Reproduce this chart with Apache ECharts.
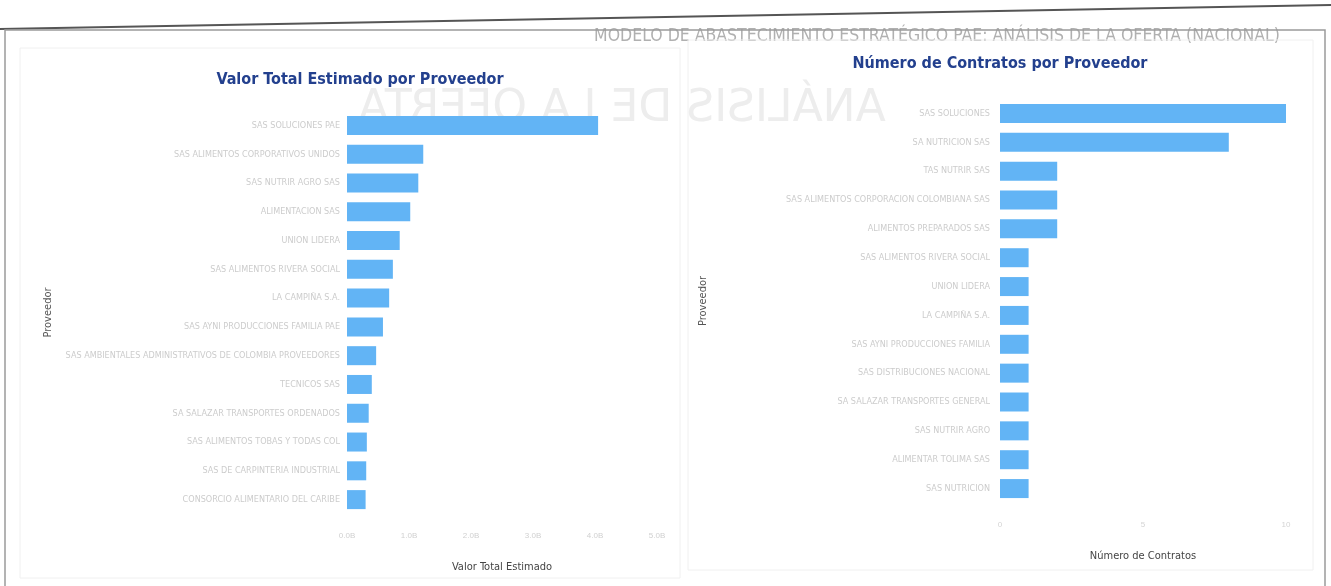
<!DOCTYPE html>
<html><head><meta charset="utf-8">
<script src="https://cdn.jsdelivr.net/npm/echarts@6/dist/echarts.min.js"></script>
<style>html,body{margin:0;padding:0;background:#fff}#c{width:1331px;height:586px}</style>
</head><body><div id="c"></div>
<script>
// Left chart: Valor Total Estimado por Proveedor (billones)
const valorCategories = [
  "SAS SOLUCIONES PAE",
  "SAS ALIMENTOS CORPORATIVOS UNIDOS",
  "SAS NUTRIR AGRO SAS",
  "ALIMENTACION SAS",
  "UNION LIDERA",
  "SAS ALIMENTOS RIVERA SOCIAL",
  "LA CAMPIÑA S.A.",
  "SAS AYNI PRODUCCIONES FAMILIA PAE",
  "SAS AMBIENTALES ADMINISTRATIVOS DE COLOMBIA PROVEEDORES",
  "TECNICOS SAS",
  "SA SALAZAR TRANSPORTES ORDENADOS",
  "SAS ALIMENTOS TOBAS Y TODAS COL",
  "SAS DE CARPINTERIA INDUSTRIAL",
  "CONSORCIO ALIMENTARIO DEL CARIBE"
];
const valorValues = [4.05, 1.23, 1.15, 1.02, 0.85, 0.74, 0.68, 0.58, 0.47, 0.40, 0.35, 0.32, 0.31, 0.30];
const valorTicks = ["0.0B", "1.0B", "2.0B", "3.0B", "4.0B", "5.0B"];

// Right chart: Número de Contratos por Proveedor
const contratosCategories = [
  "SAS SOLUCIONES",
  "SA NUTRICION SAS",
  "TAS NUTRIR SAS",
  "SAS ALIMENTOS CORPORACION COLOMBIANA SAS",
  "ALIMENTOS PREPARADOS SAS",
  "SAS ALIMENTOS RIVERA SOCIAL",
  "UNION LIDERA",
  "LA CAMPIÑA S.A.",
  "SAS AYNI PRODUCCIONES FAMILIA",
  "SAS DISTRIBUCIONES NACIONAL",
  "SA SALAZAR TRANSPORTES GENERAL",
  "SAS NUTRIR AGRO",
  "ALIMENTAR TOLIMA SAS",
  "SAS NUTRICION"
];
const contratosValues = [10, 8, 2, 2, 2, 1, 1, 1, 1, 1, 1, 1, 1, 1];

const barColor = '#62b4f5';
const titleFont = "'DejaVu Sans Condensed', 'Liberation Sans Narrow', sans-serif";
const nameFont = "'DejaVu Sans Condensed', 'DejaVu Sans', sans-serif";

const chart = echarts.init(document.getElementById('c'), null, {renderer: 'canvas'});
chart.setOption({
  backgroundColor: '#ffffff',
  animation: false,
  title: [
    {text: 'Valor Total Estimado por Proveedor', left: 355, top: 67, textAlign: 'center',
     textStyle: {color: '#23408e', fontSize: 16, fontWeight: 'bold', fontFamily: titleFont}},
    {text: 'Número de Contratos por Proveedor', left: 995, top: 51, textAlign: 'center',
     textStyle: {color: '#23408e', fontSize: 16, fontWeight: 'bold', fontFamily: titleFont}}
  ],
  graphic: [
    {type: 'polyline', shape: {points: [[0, 29], [1331, 5]]}, style: {stroke: '#555', lineWidth: 2}, silent: true},
    {type: 'text', x: 937, y: 36, style: {text: 'MODELO DE ABASTECIMIENTO ESTRATÉGICO PAE: ANÁLISIS DE LA OFERTA (NACIONAL)',
      align: 'center', verticalAlign: 'middle', fill: '#b0b0b0', font: "17.5px 'DejaVu Sans Condensed', sans-serif"}, silent: true, z: -1},
    {type: 'text', x: 622, y: 110, scaleX: -1, style: {text: 'ANÁLISIS DE LA OFERTA', align: 'center', verticalAlign: 'middle',
      fill: '#ededed', font: "44px 'DejaVu Sans', sans-serif"}, silent: true, z: -1},
    {type: 'rect', shape: {x: 5, y: 30, width: 1320, height: 570}, style: {fill: 'none', stroke: '#9a9a9a', lineWidth: 1.5}, silent: true},
    {type: 'rect', shape: {x: 20, y: 48, width: 660, height: 530}, style: {fill: 'none', stroke: '#f0f0f0', lineWidth: 1}, silent: true},
    {type: 'rect', shape: {x: 688, y: 40, width: 625, height: 530}, style: {fill: 'none', stroke: '#f0f0f0', lineWidth: 1}, silent: true}
  ],
  grid: [
    {left: 347, top: 111, width: 310, height: 403},
    {left: 1000, top: 99, width: 286, height: 404}
  ],
  xAxis: [
    {gridIndex: 0, type: 'value', min: 0, max: 5, interval: 1,
     name: 'Valor Total Estimado', nameLocation: 'middle', nameGap: 48,
     nameTextStyle: {color: '#444', fontSize: 11, fontFamily: nameFont},
     axisLine: {show: false}, axisTick: {show: false}, splitLine: {show: false},
     axisLabel: {color: '#d0d0d0', fontSize: 8, margin: 18, formatter: (v) => valorTicks[Math.round(v)]}},
    {gridIndex: 1, type: 'value', min: 0, max: 10, interval: 5,
     name: 'Número de Contratos', nameLocation: 'middle', nameGap: 48,
     nameTextStyle: {color: '#444', fontSize: 11, fontFamily: nameFont},
     axisLine: {show: false}, axisTick: {show: false}, splitLine: {show: false},
     axisLabel: {color: '#d4d4d4', fontSize: 8, margin: 18}}
  ],
  yAxis: [
    {gridIndex: 0, type: 'category', data: valorCategories, inverse: true,
     name: 'Proveedor', nameLocation: 'middle', nameGap: 293, nameRotate: 90,
     nameTextStyle: {color: '#555', fontSize: 11, fontFamily: nameFont},
     axisLine: {show: false}, axisTick: {show: false},
     axisLabel: {color: '#cccccc', fontSize: 9, margin: 7, fontFamily: nameFont}},
    {gridIndex: 1, type: 'category', data: contratosCategories, inverse: true,
     name: 'Proveedor', nameLocation: 'middle', nameGap: 291, nameRotate: 90,
     nameTextStyle: {color: '#555', fontSize: 11, fontFamily: nameFont},
     axisLine: {show: false}, axisTick: {show: false},
     axisLabel: {color: '#cccccc', fontSize: 9, margin: 10, fontFamily: nameFont}}
  ],
  series: [
    {type: 'bar', xAxisIndex: 0, yAxisIndex: 0, data: valorValues, barWidth: 19,
     itemStyle: {color: barColor}},
    {type: 'bar', xAxisIndex: 1, yAxisIndex: 1, data: contratosValues, barWidth: 19,
     itemStyle: {color: barColor}}
  ]
});
</script>
</body></html>
